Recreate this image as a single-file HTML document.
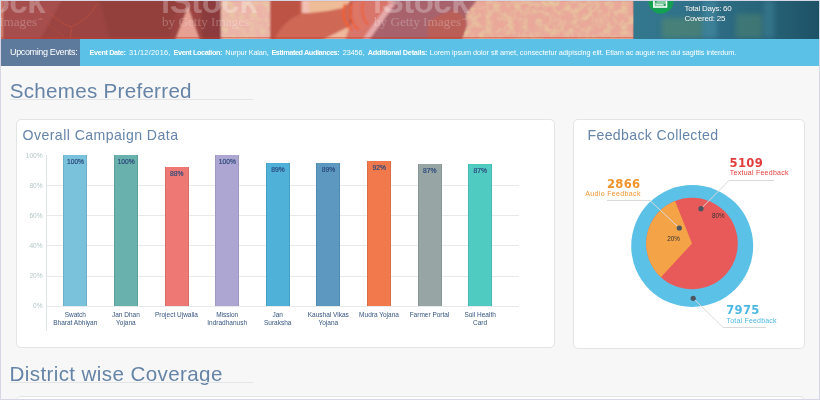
<!DOCTYPE html>
<html lang="en">
<head>
<meta charset="utf-8">
<title>Campaign Dashboard</title>
<style>
*{box-sizing:border-box;margin:0;padding:0}
html,body{width:820px;height:400px;overflow:hidden;background:#f7f7f7}
body{font-family:"Liberation Sans",sans-serif;position:relative}
.abs{position:absolute}
#frame{position:absolute;left:0;top:0;width:820px;height:400px;border:1px solid #d6d6e4;z-index:50;pointer-events:none}
#hero{position:absolute;left:1px;top:1px;width:818px;height:38px;overflow:hidden;background:#c8706a}
#hero div{position:absolute}
#evbar{position:absolute;left:1px;top:39px;width:818px;height:27px;background:#5bc1e6}
#evlabel{position:absolute;left:0;top:0;width:79px;height:27px;background:#5d7a9c;color:#fff;font-size:9px;line-height:27px;padding-left:9px;white-space:nowrap;letter-spacing:-0.36px}
#evtext{position:absolute;left:0;top:0;height:27px;line-height:27.6px;color:#fff;font-size:7.3px;white-space:nowrap}
#evtext span,#evtext b{position:absolute;top:0}
#evtext b{font-weight:700;font-size:7.3px}
h2{position:absolute;font-weight:400;color:#6684a7;font-size:20.6px;line-height:24px;white-space:nowrap}
.ul{position:absolute;height:1px;background:#e3e5e8}
.card{position:absolute;background:#fff;border:1px solid #e2e5e5;border-radius:5px}
.ctitle{position:absolute;color:#6685aa;font-size:14.1px;line-height:16px;white-space:nowrap}
.ylab{position:absolute;width:20px;text-align:right;font-size:6.6px;line-height:8px;color:#b4c6c6}
.grid{position:absolute;left:47px;width:472px;height:1px;background:#e7eaea}
.bar{position:absolute;width:24px;border-left:1px solid rgba(0,0,0,.09);border-right:1px solid rgba(0,0,0,.09)}
.bar span{position:absolute;left:-9.8px;width:42px;text-align:center;top:3px;font-size:6.7px;line-height:8px;color:#2c4a7c;-webkit-text-stroke:.2px #2c4a7c}
.xlab{position:absolute;width:60px;text-align:center;font-size:6.5px;line-height:8px;color:#36557f;top:311px}
</style>
</head>
<body>
<div id="hero">
<svg class="abs" style="left:0;top:0" width="818" height="38" viewBox="1 1 818 38">
  <defs>
    <filter id="b1" x="-5%" y="-20%" width="110%" height="140%"><feGaussianBlur stdDeviation="0.9"/></filter>
    <filter id="b2" x="-5%" y="-30%" width="110%" height="160%"><feGaussianBlur stdDeviation="2.5"/></filter>
    <filter id="nz" x="0" y="0" width="100%" height="100%">
      <feTurbulence type="fractalNoise" baseFrequency="0.14" numOctaves="2" seed="4" result="t"/>
      <feColorMatrix in="t" type="matrix" values="0 0 0 0 0.80  0 0 0 0 0.69  0 0 0 0 0.36  2.2 0 0 0 -0.85"/>
      <feComposite in2="SourceGraphic" operator="in"/>
    </filter>
    <linearGradient id="tg" x1="0" x2="1" y1="0" y2="0">
      <stop offset="0" stop-color="#34788e"/><stop offset=".35" stop-color="#2f7088"/><stop offset=".7" stop-color="#286479"/><stop offset="1" stop-color="#1d5166"/>
    </linearGradient>
  </defs>
  <rect x="1" y="1" width="633" height="38" fill="#9b4442"/>
  <g filter="url(#b1)">
    <rect x="0" y="0" width="2.6" height="40" fill="#e6927c"/>
    <path d="M3 0 H62 L40 40 H3Z" fill="#a64e4d"/>
    <path d="M100 0 H178 L170 40 H110Z" fill="#933f3e"/>
    <path d="M200 0 H222 V40 H203Z" fill="#8c3b3c"/>
    <path d="M188 6 L200 40 H175Z" fill="#e6a094"/>
    <rect x="221" y="0" width="50" height="40" fill="#ecb4a9"/>
    <rect x="270" y="0" width="80" height="40" fill="#cf6755"/>
    <path d="M270 0 H300 L300 14 Q284 20 274 40 H270Z" fill="#bd5244"/>
    <path d="M302 0 H309 V13 H302Z" fill="#f2c0b4"/>
    <path d="M309 0 H352 L343 8 Q326 12 309 13Z" fill="#efbc98"/>
    <path d="M322 40 L346 28 H374 L362 40Z" fill="#f0b89c"/>
    <path d="M352 0 H420 V40 H345 L352 20Z" fill="#d9766c"/>
    <path d="M345 4 Q340 20 352 30" stroke="#f2602e" stroke-width="2.2" fill="none"/>
    <path d="M352 3 Q347 20 359 30" stroke="#f2602e" stroke-width="2" fill="none"/>
    <path d="M363 2 Q360 16 368 25" stroke="#f2602e" stroke-width="1.8" fill="none"/>
    <path d="M357 3 Q353 18 364 29" stroke="#ee7a50" stroke-width="1.2" fill="none"/>
    <path d="M394 0 H477 L466 14 L468 40 H364Z" fill="#a7626c"/>
    <path d="M389 3 L396 3 L369 40 L362 40Z" fill="#e6aaaa"/>
    <path d="M428 22 Q445 10 456 11 Q468 16 466 28 L462 40 H428Z" fill="#b95f58"/>
    <path d="M477 0 H634 V40 H462 L467 26 L466 14Z" fill="#e9a89a"/>
  </g>
  <rect x="221" y="1" width="49" height="38" fill="#fff" filter="url(#nz)" opacity=".55"/>
  <path d="M477 1 H633.5 V39 H462 L467 26 L466 14Z" fill="#fff" filter="url(#nz)" opacity=".62"/>
  <rect x="1" y="37.2" width="633" height="1" fill="#cf3a28" opacity=".6"/>
  <rect x="633.5" y="1" width="186" height="38" fill="url(#tg)"/>
  <g filter="url(#b2)" opacity=".55">
    <rect x="662" y="18" width="40" height="20" fill="#5a8c6a"/>
    <rect x="736" y="14" width="26" height="24" fill="#4f8470"/>
    <rect x="703" y="0" width="14" height="38" fill="#4a90a8"/>
    <rect x="764" y="0" width="10" height="38" fill="#3f8298"/>
  </g>
  <g fill="none" stroke="#d2553a" stroke-width=".9" opacity=".55">
    <path d="M44 8 Q58 22 71 27 Q88 20 97 4"/><path d="M72 28 L70 38"/><path d="M36 11 Q50 28 64 36" opacity=".6"/>
  </g>
  <g fill="#fff" fill-opacity=".27" font-family="'Liberation Sans',sans-serif" font-weight="700" font-size="33" letter-spacing="-.5">
    <text x="-51" y="12.5">iStock</text><text x="161" y="12.5">iStock</text><text x="373" y="12.5">iStock</text>
  </g>
  <g fill="#fff" fill-opacity=".25" font-family="'Liberation Serif',serif" font-size="13.2">
    <text x="-50" y="25.5">by Getty Images<tspan font-size="5" dy="-5">™</tspan></text><text x="162" y="25.5">by Getty Images<tspan font-size="5" dy="-5">™</tspan></text><text x="374" y="25.5">by Getty Images<tspan font-size="5" dy="-5">™</tspan></text>
  </g>
  <circle cx="660.9" cy="1.2" r="12.5" fill="#13a052"/>
  <rect x="653.1" y="0" width="14.2" height="7.8" fill="#fff"/>
  <rect x="654.6" y="0" width="11.2" height="6.3" fill="#7fcaa0"/>
  <rect x="655" y="1.2" width="1.6" height="1.2" fill="#0d8a44"/><rect x="664" y="4.2" width="1.6" height="1.5" fill="#0d8a44"/>
  <rect x="656" y="4.2" width="7" height=".9" fill="#e8f6ee"/>
</svg>
<div style="left:683.4px;top:2.8px;color:#fff;font-size:8px;letter-spacing:-.26px;line-height:9.8px;white-space:nowrap;position:absolute;text-shadow:0 0 1px rgba(0,0,0,.25)">Total Days: 60<br>Covered: 25</div>
</div>
<div id="evbar">
  <div id="evlabel">Upcoming Events:</div>
  <div id="evtext"><b style="left:88.5px;letter-spacing:-0.366px">Event Date:</b> <span style="left:128.0px;letter-spacing:0.284px">31/12/2016,</span> <b style="left:172.6px;letter-spacing:-0.424px">Event Location:</b> <span style="left:224.3px;letter-spacing:-0.136px">Nurpur Kalan,</span> <b style="left:270.4px;letter-spacing:-0.404px">Estimated Audiances:</b> <span style="left:341.7px;letter-spacing:-0.086px">23456,</span> <b style="left:366.7px;letter-spacing:-0.237px">Additional Details:</b> <span style="left:428.7px;letter-spacing:-0.067px">Lorem ipsum dolor sit amet, consectetur adipiscing elit. Etiam ac augue nec dui sagittis interdum.</span></div>
</div>

<h2 style="left:9.7px;top:79px;letter-spacing:.28px">Schemes Preferred</h2>
<div class="ul" style="left:10px;top:99px;width:243px"></div>

<div class="card" style="left:16px;top:119px;width:539px;height:229px"></div>
<div class="ctitle" style="left:22.5px;top:126.5px;letter-spacing:.45px">Overall Campaign Data</div>

<div class="ylab" style="left:22.6px;top:152.4px">100%</div>
<div class="ylab" style="left:22.6px;top:181.5px">80%</div>
<div class="ylab" style="left:22.6px;top:211.5px">60%</div>
<div class="ylab" style="left:22.6px;top:242px">40%</div>
<div class="ylab" style="left:22.6px;top:272px">20%</div>
<div class="ylab" style="left:22.6px;top:302px">0%</div>
<div class="grid" style="top:185px"></div>
<div class="grid" style="top:215px"></div>
<div class="grid" style="top:245px"></div>
<div class="grid" style="top:276px"></div>
<div class="grid" style="top:306px"></div>
<div class="abs" style="left:46px;top:155px;width:1px;height:176px;background:#dfe4e4"></div>

<div class="bar" style="left:63.3px;top:155px;height:151px;background:#7ac1dc"><span>100%</span></div>
<div class="bar" style="left:113.9px;top:155px;height:151px;background:#68b1ac"><span>100%</span></div>
<div class="bar" style="left:164.5px;top:167.4px;height:138.6px;background:#ee7873"><span>88%</span></div>
<div class="bar" style="left:215.2px;top:155px;height:151px;background:#aea6d2"><span>100%</span></div>
<div class="bar" style="left:265.7px;top:163.2px;height:142.8px;background:#4fb0d8"><span>89%</span></div>
<div class="bar" style="left:316.3px;top:163.2px;height:142.8px;background:#5d98c1"><span>89%</span></div>
<div class="bar" style="left:367px;top:161px;height:145px;background:#f2794c"><span>92%</span></div>
<div class="bar" style="left:417.5px;top:164.4px;height:141.6px;background:#97a5a4"><span>87%</span></div>
<div class="bar" style="left:468.1px;top:164.4px;height:141.6px;background:#4fcbc2"><span>87%</span></div>

<div class="xlab" style="left:45.3px">Swatch<br>Bharat Abhiyan</div>
<div class="xlab" style="left:95.9px">Jan Dhan<br>Yojana</div>
<div class="xlab" style="left:146.5px">Project Ujwalla</div>
<div class="xlab" style="left:197.2px">Mission<br>Indradhanush</div>
<div class="xlab" style="left:247.7px">Jan<br>Suraksha</div>
<div class="xlab" style="left:298.3px">Kaushal Vikas<br>Yojana</div>
<div class="xlab" style="left:349px">Mudra Yojana</div>
<div class="xlab" style="left:399.5px">Farmer Portal</div>
<div class="xlab" style="left:450.1px">Soil Health<br>Card</div>

<div class="card" style="left:573px;top:119px;width:232px;height:230px"></div>
<div class="ctitle" style="left:587.5px;top:126.5px;letter-spacing:.35px">Feedback Collected</div>

<svg class="abs" style="left:573px;top:119px" width="231" height="229" viewBox="573 119 231 229">
  <circle cx="692.2" cy="246" r="61" fill="#5bc1e6"/>
  <circle cx="692" cy="243.5" r="45.8" fill="#e85a5a"/>
  <path d="M692 243.5 L675 201 A45.8 45.8 0 0 0 660.9 277.2 Z" fill="#f4a447"/>
  <g fill="none" stroke="#d9d9d9" stroke-width="1">
    <path d="M607 200.5 H650 L679.3 228"/>
    <path d="M774 180.5 H729 L701 208.7"/>
    <path d="M693.2 298.3 L723.2 327.5 H766"/>
  </g>
  <circle cx="679.3" cy="228" r="2.6" fill="#4d5560"/>
  <circle cx="701" cy="208.7" r="2.6" fill="#4d5560"/>
  <circle cx="693.2" cy="298.3" r="2.6" fill="#4d5560"/>
  <g font-family="'Liberation Sans',sans-serif" font-size="6.3" fill="#333" text-anchor="middle">
    <text x="673.5" y="241.2">20%</text>
    <text x="718.4" y="218.2">80%</text>
  </g>
  <g font-family="'DejaVu Sans','Liberation Sans',sans-serif" font-weight="700" font-size="11.6" letter-spacing=".3">
    <text x="607" y="187.5" fill="#f0932b">2866</text>
    <text x="729.6" y="167" fill="#e23c3c">5109</text>
    <text x="726.2" y="314.4" fill="#4db8e2">7975</text>
  </g>
  <g font-family="'Liberation Sans',sans-serif" font-size="7">
    <text x="585.3" y="196.3" fill="#f0932b" letter-spacing=".35">Audio Feedback</text>
    <text x="729.8" y="175" fill="#e23c3c" letter-spacing=".25">Textual Feedback</text>
    <text x="726.5" y="323.1" fill="#4db8e2" letter-spacing=".2">Total Feedback</text>
  </g>
</svg>

<h2 style="left:9.5px;top:362.2px;letter-spacing:.38px">District wise Coverage</h2>
<div class="ul" style="left:10px;top:382px;width:243px"></div>
<div class="card" style="left:16px;top:396px;width:789px;height:30px"></div>

<div id="frame"></div>
</body>
</html>
